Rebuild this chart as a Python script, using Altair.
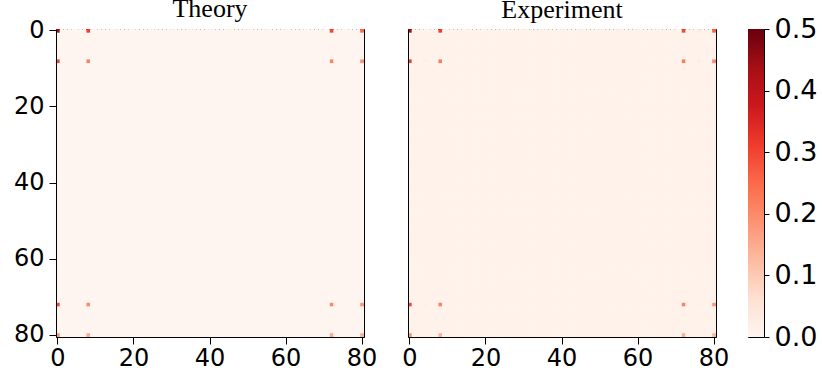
import altair as alt
import pandas as pd

N = 81
peak_idx = [0, 8, 72, 80]

theory_peaks = [
    [0.44, 0.31, 0.30, 0.25],
    [0.30, 0.21, 0.21, 0.19],
    [0.30, 0.20, 0.20, 0.18],
    [0.19, 0.15, 0.15, 0.14],
]
experiment_peaks = [
    [0.44, 0.31, 0.30, 0.26],
    [0.31, 0.22, 0.22, 0.20],
    [0.30, 0.21, 0.21, 0.18],
    [0.19, 0.14, 0.14, 0.13],
]
theory_background = 0.0
experiment_background = 0.01
# faint extra spots seen in the experimental map: (row, col, value)
experiment_faint = [
    (0, 76, 0.03), (2, 72, 0.02), (8, 76, 0.025), (8, 4, 0.02),
    (10, 72, 0.02), (74, 72, 0.02), (72, 76, 0.02), (72, 4, 0.02),
]

tick_values = [0, 20, 40, 60, 80]
cbar_ticks = [0.0, 0.1, 0.2, 0.3, 0.4, 0.5]
cbar_range = [0.0, 0.5]

# matplotlib "Reds" anchors
reds_colors = ["#fff5f0", "#fee0d2", "#fcbba1", "#fc9272", "#fb6a4a",
               "#ef3b2c", "#cb181d", "#a50f15", "#67000d"]
reds_domain = [0, 0.0625, 0.125, 0.1875, 0.25, 0.3125, 0.375, 0.4375, 0.5]


def build(peaks, background, extra=()):
    vals = {}
    for i, r in enumerate(peak_idx):
        for j, c in enumerate(peak_idx):
            vals[(r, c)] = peaks[i][j]
    for r, c, v in extra:
        vals[(r, c)] = v
    rows = []
    for r in range(N):
        for c in range(N):
            rows.append({"row": r, "col": c, "v": vals.get((r, c), background)})
    return pd.DataFrame(rows)


df_t = build(theory_peaks, theory_background)
df_e = build(experiment_peaks, experiment_background, experiment_faint)
df_c = pd.DataFrame({"lo": [cbar_range[0]], "hi": [cbar_range[1]]})

cscale = alt.Scale(domain=reds_domain, range=reds_colors, interpolate="rgb")
FONT = "DejaVu Sans"
SIZE = 308


def panel(df, title, show_y, title_offset):
    yaxis = alt.Axis(
        values=tick_values, title=None, labelFontSize=24, labelFont=FONT,
        labelColor="black", tickColor="black", domainColor="black",
        tickSize=7, labelPadding=5, labelAngle=0,
    ) if show_y else alt.Axis(
        labels=False, ticks=False, title=None, domain=True, domainColor="black"
    )
    return alt.Chart(df).mark_rect().encode(
        x=alt.X("col:O", scale=alt.Scale(paddingInner=0, paddingOuter=0),
                axis=alt.Axis(values=tick_values, title=None, labelFontSize=24,
                              labelFont=FONT, labelColor="black", tickColor="black",
                              domainColor="black", tickSize=7, labelPadding=2,
                              labelAngle=0)),
        y=alt.Y("row:O", scale=alt.Scale(paddingInner=0, paddingOuter=0), axis=yaxis),
        color=alt.Color("v:Q", scale=cscale, legend=None),
    ).properties(
        width=SIZE, height=SIZE,
        title=alt.TitleParams(title, font="Liberation Serif", fontSize=26,
                              fontWeight="normal", color="black",
                              frame="group", offset=title_offset),
    )


gradient = {
    "gradient": "linear", "x1": 0, "y1": 1, "x2": 0, "y2": 0,
    "stops": [{"offset": i / (len(reds_colors) - 1), "color": c}
              for i, c in enumerate(reds_colors)],
}

cbar = alt.Chart(df_c).mark_rect().encode(
    y=alt.Y("lo:Q", scale=alt.Scale(domain=cbar_range, nice=False, zero=False),
            axis=alt.Axis(orient="right", values=cbar_ticks, format=".1f",
                          title=None, labelFontSize=27, labelFont=FONT,
                          labelColor="black", tickColor="black", tickSize=5,
                          labelPadding=5, domain=False, grid=False,
                          labelFlush=False)),
    y2="hi:Q",
    color=alt.value(gradient),
).properties(width=16, height=SIZE)

chart = alt.hconcat(
    alt.hconcat(
        panel(df_t, "Theory", True, -4),
        panel(df_e, "Experiment", False, 6),
        spacing=23,
    ),
    cbar,
    spacing=17,
).properties(
    padding={"left": 12, "top": -5, "right": 0, "bottom": 0}
).configure_view(stroke="black", strokeWidth=1, fill="#fff5f0").configure_axis(
    domainWidth=1, tickWidth=1
)

chart.save("out.html", embed_options={"renderer": "svg", "actions": False})
